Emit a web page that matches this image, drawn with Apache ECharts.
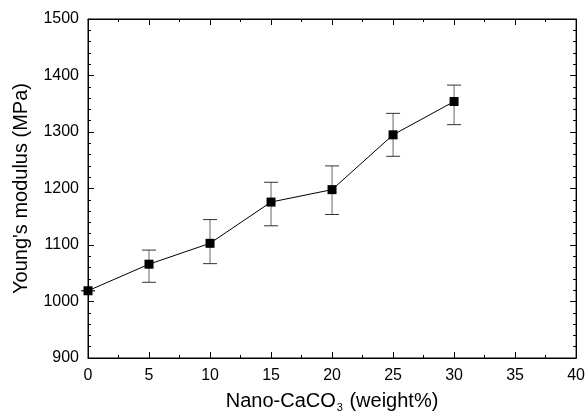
<!DOCTYPE html>
<html>
  <head>
    <meta charset="utf-8" />
    <script src="https://cdn.jsdelivr.net/npm/echarts@6/dist/echarts.min.js"></script>
  </head>
  <body style="margin:0">
    <div id="main" style="width: 588px;height:418px;"></div>
    <script type="text/javascript">
      // CaCO3 content (weight%) and Young's modulus (MPa)
      var loading = [0, 5, 10, 15, 20, 25, 30];
      var modulus = [1019, 1066, 1103, 1176, 1198, 1295, 1354];
      var errHigh = [1019, 1091, 1145, 1211, 1240, 1333, 1383];
      var errLow = [1019, 1034, 1067, 1134, 1154, 1257, 1313];

      var font = 'Liberation Sans, Arial, sans-serif';
      var points = loading.map(function (x, i) { return [x, modulus[i]]; });
      var bars = loading.map(function (x, i) { return [x, errLow[i], errHigh[i]]; });

      var line = { show: true, onZero: false, lineStyle: { color: '#000', width: 1 } };
      var tick = { show: true, inside: true, length: 6, lineStyle: { color: '#000' } };
      function minor(n) {
        return { show: true, splitNumber: n, length: 3, lineStyle: { color: '#000' } };
      }
      function plain(v) { return String(v); }

      var myChart = echarts.init(document.getElementById('main'));
      var option = {
        animation: false,
        backgroundColor: '#fff',
        grid: { left: 88, right: 9, top: 19, bottom: 56, show: true, borderColor: '#000', borderWidth: 1 },
        xAxis: [
          {
            type: 'value', min: 0, max: 40, interval: 5,
            axisLine: line, axisTick: tick, minorTick: minor(2),
            splitLine: { show: false },
            axisLabel: { color: '#000', fontSize: 16, fontFamily: font, margin: 10, formatter: plain },
            name: '{a|Nano-CaCO}{s|3}{a| (weight%)}',
            nameLocation: 'middle', nameGap: 32,
            nameTextStyle: {
              rich: {
                a: { fontSize: 20, fontFamily: font, color: '#000' },
                s: { fontSize: 11, fontFamily: font, color: '#000', padding: [12, 1, 0, 1] }
              }
            }
          },
          {
            type: 'value', position: 'top', min: 0, max: 40, interval: 5,
            axisLine: line, axisTick: tick, minorTick: minor(2),
            axisLabel: { show: false }, splitLine: { show: false }
          }
        ],
        yAxis: [
          {
            type: 'value', min: 900, max: 1500, interval: 100,
            axisLine: line, axisTick: tick, minorTick: minor(5),
            splitLine: { show: false },
            axisLabel: { color: '#000', fontSize: 16, fontFamily: font, margin: 9, formatter: plain },
            name: "Young's modulus (MPa)",
            nameLocation: 'middle', nameGap: 57,
            nameTextStyle: { fontSize: 20, fontFamily: font, color: '#000' }
          },
          {
            type: 'value', position: 'right', min: 900, max: 1500, interval: 100,
            axisLine: line, axisTick: tick, minorTick: minor(5),
            splitLine: { show: false }, axisLabel: { show: false }
          }
        ],
        series: [
          {
            type: 'custom',
            data: bars,
            z: 1,
            renderItem: function (params, api) {
              var top = api.coord([api.value(0), api.value(2)]);
              var bot = api.coord([api.value(0), api.value(1)]);
              var cap = 7;
              var style = { stroke: '#333', lineWidth: 1 };
              return {
                type: 'group',
                children: [
                  { type: 'line', shape: { x1: top[0], y1: top[1], x2: bot[0], y2: bot[1] }, style: { stroke: '#666', lineWidth: 1 } },
                  { type: 'line', shape: { x1: top[0] - cap, y1: top[1], x2: top[0] + cap, y2: top[1] }, style: style },
                  { type: 'line', shape: { x1: bot[0] - cap, y1: bot[1], x2: bot[0] + cap, y2: bot[1] }, style: style }
                ]
              };
            }
          },
          {
            type: 'line',
            data: points,
            z: 3,
            symbol: 'rect',
            symbolSize: 9,
            lineStyle: { color: '#000', width: 1 },
            itemStyle: { color: '#000' }
          },
          {
            // empty series so the mirrored top/right axes are drawn
            type: 'line', xAxisIndex: 1, yAxisIndex: 1, data: [], silent: true
          }
        ]
      };
      myChart.setOption(option);
    </script>
  </body>
</html>
